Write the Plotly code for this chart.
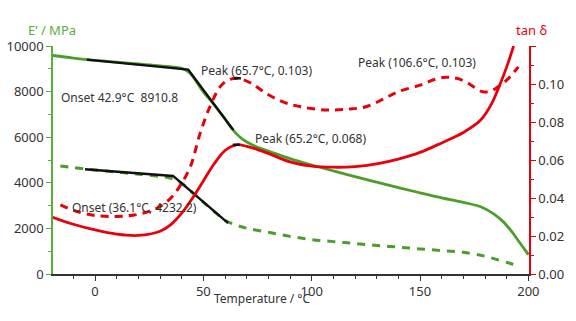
import plotly.graph_objects as go

# ---- Sample 1 storage modulus E' (MPa), solid green
t_e1 = [-20, -10, 0, 10, 20, 30, 40, 43, 45, 48, 50, 55, 60, 62, 65, 68, 72, 76, 80, 90,
        100, 110, 120, 130, 140, 150, 160, 170, 178, 184, 188, 192, 196, 200]
e1 = [9590, 9470, 9370, 9290, 9210, 9130, 9020, 8880, 8680, 8260, 7990, 7420, 6800, 6530,
      6180, 5920, 5690, 5520, 5390, 5060, 4780, 4520, 4270, 4030, 3790, 3560, 3340, 3140,
      2950, 2640, 2330, 1900, 1380, 850]

# ---- Sample 2 storage modulus E' (MPa), dashed green
t_e2 = [-16, -10, 0, 10, 20, 30, 35, 40, 45, 50, 55, 60, 65, 70, 80, 90, 100, 110, 120,
        130, 140, 150, 160, 170, 180, 186, 192, 196]
e2 = [4740, 4670, 4560, 4470, 4380, 4280, 4200, 3980, 3570, 3150, 2740, 2360, 2150, 2010,
      1830, 1650, 1510, 1420, 1340, 1250, 1180, 1100, 1030, 950, 780, 620, 450, 310]

# ---- Sample 1 tan delta, solid red
t_d1 = [-20, -10, 0, 10, 20, 30, 35, 40, 45, 50, 55, 60, 65.2, 70, 75, 80, 90, 100, 110,
        120, 130, 140, 150, 160, 170, 178, 183, 187, 190, 193.2]
d1 = [0.0300, 0.0262, 0.0232, 0.0210, 0.0203, 0.0225, 0.0260, 0.0320, 0.0400, 0.0490,
      0.0580, 0.0650, 0.0680, 0.0672, 0.0655, 0.0635, 0.0590, 0.0568, 0.0562, 0.0565,
      0.0580, 0.0605, 0.0640, 0.0690, 0.0745, 0.0810, 0.0895, 0.1000, 0.1090, 0.1200]

# ---- Sample 2 tan delta, dashed red
t_d2 = [-16, -10, 0, 10, 18, 25, 30, 35, 39, 44, 48.5, 53, 57.7, 61, 65.7, 72, 79, 87, 95,
        107, 117, 125, 133, 140, 150, 157, 162, 167, 172, 179, 183, 186, 190, 195.4]
d2 = [0.0364, 0.0335, 0.0308, 0.0303, 0.0310, 0.0330, 0.0355, 0.0400, 0.0460, 0.0565,
      0.0740, 0.0880, 0.0985, 0.1018, 0.1030, 0.1005, 0.0950, 0.0905, 0.0880, 0.0863,
      0.0868, 0.0880, 0.0920, 0.0960, 0.0994, 0.1025, 0.1035, 0.1030, 0.1005, 0.0959,
      0.0965, 0.0985, 0.1020, 0.1090]

# ---- Onset tangent constructions (black)
t_on1 = [-3.8, 43.0, 63.8]
e_on1 = [9405, 8968, 6312]
t_on2 = [-4.6, 36.0, 61.4]
e_on2 = [4593, 4300, 2231]

# ---- Peak positions on tan delta
peak_t = [65.7, 65.2]
peak_d = [0.103, 0.068]

# ---- Axis ticks
x_ticks = [0, 50, 100, 150, 200]
e_ticks = [0, 2000, 4000, 6000, 8000, 10000]
d_ticks = [0, 0.02, 0.04, 0.06, 0.08, 0.10, 0.12]
d_ticktext = ["0.00", "0.02", "0.04", "0.06", "0.08", "0.10", ""]

labels = [
    ("Onset 42.9°C&nbsp;&nbsp;8910.8", -16.6, 7756),
    ("Peak (65.7°C, 0.103)", 48.0, 8937),
    ("Peak (106.6°C, 0.103)", 120.5, 9287),
    ("Peak (65.2°C, 0.068)", 72.9, 5962),
    ("Onset (36.1°C, 4232.2)", -11.5, 2913),
]

GREEN = "#4b9e2c"
GREEN_AX = "#58b03a"
RED = "#e8000a"
TXT = "#333333"
FONT = "Noto Sans"

fig = go.Figure()
fig.add_trace(go.Scatter(x=t_e2, y=e2, mode="lines", line=dict(color=GREEN, width=3, dash="8px,7px", shape="spline")))
fig.add_trace(go.Scatter(x=t_e1, y=e1, mode="lines", line=dict(color=GREEN, width=2.8, shape="spline")))
fig.add_trace(go.Scatter(x=t_d2, y=d2, mode="lines", yaxis="y2", line=dict(color=RED, width=3, dash="8px,6px", shape="spline")))
fig.add_trace(go.Scatter(x=t_d1, y=d1, mode="lines", yaxis="y2", line=dict(color=RED, width=2.8, shape="spline")))
fig.add_trace(go.Scatter(x=t_on1, y=e_on1, mode="lines", line=dict(color="#111111", width=2.4)))
fig.add_trace(go.Scatter(x=t_on2, y=e_on2, mode="lines", line=dict(color="#111111", width=2.4)))
fig.add_trace(go.Scatter(x=peak_t, y=peak_d, mode="markers", yaxis="y2",
                         marker=dict(symbol="line-ew", size=5, line=dict(color="#111111", width=2.5))))

for text, x, y in labels:
    fig.add_annotation(x=x, y=y, xref="x", yref="y", text=text, showarrow=False,
                       xanchor="left", yanchor="middle", font=dict(family=FONT, size=12, color=TXT))

W, H = 576, 321
ML, MR, MT, MB = 53, 47, 46, 47
pw, ph = W - ML - MR, H - MT - MB

def px_to_paper(px, py):
    return (px - ML) / pw, (H - MB - py) / ph

fig.add_annotation(x=77, y=px_to_paper(0, 298)[1], xref="x", yref="paper", text="Temperature / °C",
                   showarrow=False, xanchor="center", yanchor="middle",
                   font=dict(family=FONT, size=12, color=TXT))
ex, ey = px_to_paper(52, 30)
fig.add_annotation(x=ex, y=ey, xref="paper", yref="paper", text="E’ / MPa", showarrow=False,
                   xanchor="center", yanchor="middle", font=dict(family=FONT, size=13, color=GREEN_AX))
tx, ty = px_to_paper(531, 30)
fig.add_annotation(x=tx, y=ty, xref="paper", yref="paper", text="tan δ", showarrow=False,
                   xanchor="center", yanchor="middle", font=dict(family=FONT, size=13, color=RED))

fig.update_layout(
    width=W, height=H, margin=dict(l=ML, r=MR, t=MT, b=MB, autoexpand=False),
    paper_bgcolor="white", plot_bgcolor="white", showlegend=False,
    font=dict(family=FONT, size=13, color=TXT),
    xaxis=dict(range=[-19.4, 200.3], showgrid=False, zeroline=False, showline=True, automargin=False,
               linecolor="#333333", linewidth=1.5, ticks="outside", ticklen=5, tickcolor="#333333",
               tickvals=x_ticks, ticktext=[str(v) for v in x_ticks], tickfont=dict(size=13, color=TXT),
               minor=dict(dtick=10, tick0=0, ticks="outside", ticklen=3, tickcolor="#333333")),
    yaxis=dict(range=[0, 10000], showgrid=False, zeroline=False, showline=True, automargin=False,
               linecolor=GREEN_AX, linewidth=1.5, ticks="outside", ticklen=5, tickcolor=GREEN_AX,
               tickvals=e_ticks, ticktext=[str(v) for v in e_ticks], tickfont=dict(size=13, color=TXT),
               minor=dict(dtick=1000, tick0=0, ticks="outside", ticklen=3, tickcolor=GREEN_AX)),
    yaxis2=dict(range=[0, 0.12], overlaying="y", side="right", showgrid=False, zeroline=False,
                automargin=False,
                showline=True, linecolor=RED, linewidth=1.5, ticks="outside", ticklen=5, tickcolor=RED,
                tickvals=d_ticks, ticktext=d_ticktext, tickfont=dict(size=13, color=TXT),
                minor=dict(dtick=0.01, tick0=0, ticks="outside", ticklen=3, tickcolor=RED)),
)

fig.write_html("out.html")
